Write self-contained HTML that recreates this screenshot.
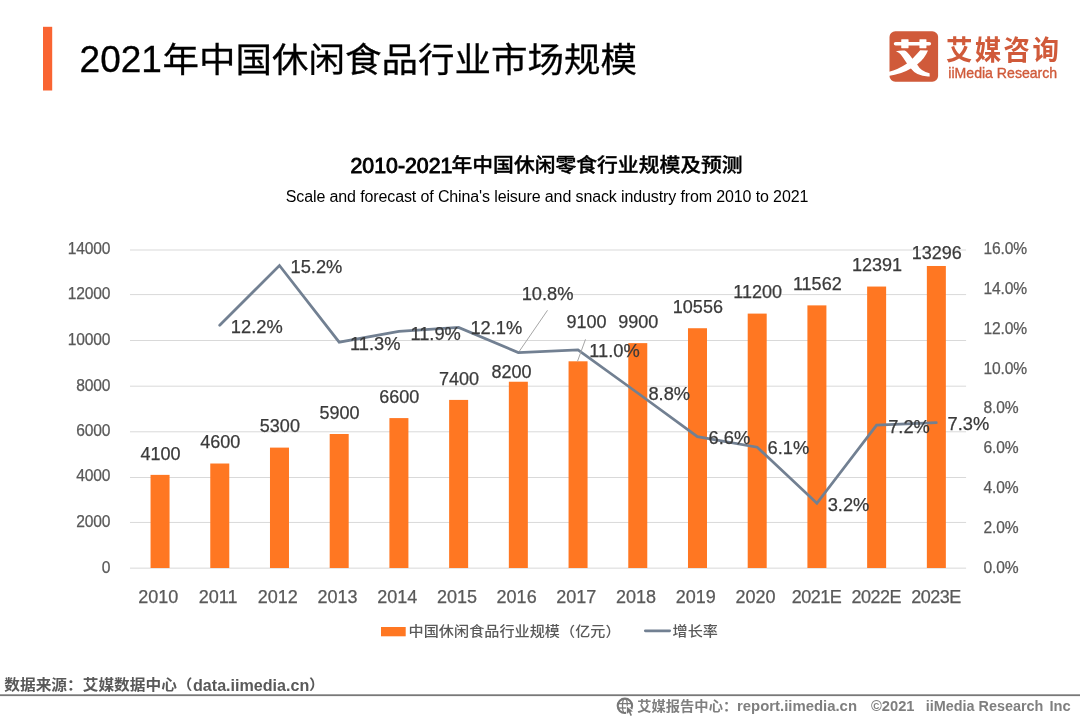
<!DOCTYPE html>
<html lang="zh-CN">
<head>
<meta charset="utf-8">
<title>2021年中国休闲食品行业市场规模</title>
<style>
html,body{margin:0;padding:0;background:#fff;}
body{width:1080px;height:720px;position:relative;overflow:hidden;font-family:"Liberation Sans", "Noto Sans CJK SC", sans-serif;}
#g{position:absolute;left:0;top:0;width:1080px;height:720px;}
.t{position:absolute;white-space:pre;line-height:0;height:0;}
.r{display:inline-block;line-height:0;white-space:pre;}
</style>
</head>
<body>
<svg id="g" width="1080" height="720" viewBox="0 0 1080 720">
<line x1="130.0" y1="568.15" x2="966.1" y2="568.15" stroke="#d9d9d9" stroke-width="1"/>
<line x1="130.0" y1="522.45" x2="966.1" y2="522.45" stroke="#d9d9d9" stroke-width="1"/>
<line x1="130.0" y1="477.50" x2="966.1" y2="477.50" stroke="#d9d9d9" stroke-width="1"/>
<line x1="130.0" y1="431.80" x2="966.1" y2="431.80" stroke="#d9d9d9" stroke-width="1"/>
<line x1="130.0" y1="386.20" x2="966.1" y2="386.20" stroke="#d9d9d9" stroke-width="1"/>
<line x1="130.0" y1="340.50" x2="966.1" y2="340.50" stroke="#d9d9d9" stroke-width="1"/>
<line x1="130.0" y1="294.60" x2="966.1" y2="294.60" stroke="#d9d9d9" stroke-width="1"/>
<line x1="130.0" y1="250.00" x2="966.1" y2="250.00" stroke="#d9d9d9" stroke-width="1"/>
<rect x="150.55" y="474.87" width="19.0" height="93.13" fill="#ff7722"/>
<rect x="210.27" y="463.51" width="19.0" height="104.49" fill="#ff7722"/>
<rect x="269.98" y="447.61" width="19.0" height="120.39" fill="#ff7722"/>
<rect x="329.70" y="433.99" width="19.0" height="134.01" fill="#ff7722"/>
<rect x="389.41" y="418.09" width="19.0" height="149.91" fill="#ff7722"/>
<rect x="449.13" y="399.91" width="19.0" height="168.09" fill="#ff7722"/>
<rect x="508.84" y="381.74" width="19.0" height="186.26" fill="#ff7722"/>
<rect x="568.56" y="361.30" width="19.0" height="206.70" fill="#ff7722"/>
<rect x="628.27" y="343.13" width="19.0" height="224.87" fill="#ff7722"/>
<rect x="687.99" y="328.23" width="19.0" height="239.77" fill="#ff7722"/>
<rect x="747.70" y="313.60" width="19.0" height="254.40" fill="#ff7722"/>
<rect x="807.41" y="305.38" width="19.0" height="262.62" fill="#ff7722"/>
<rect x="867.13" y="286.55" width="19.0" height="281.45" fill="#ff7722"/>
<rect x="926.85" y="265.99" width="19.0" height="302.01" fill="#ff7722"/>
<line x1="518.6" y1="352.3" x2="547.5" y2="310.3" stroke="#a6a6a6" stroke-width="1"/>
<polyline points="219.70,325.30 279.45,265.50 339.20,342.20 398.90,331.30 458.60,327.40 518.30,352.50 578.00,350.00 637.70,393.00 697.40,436.70 757.20,447.20 816.90,503.30 876.60,425.20 936.30,422.70" fill="none" stroke="#728092" stroke-width="2.75" stroke-linejoin="miter" stroke-linecap="round"/>
<line x1="585.5" y1="339.3" x2="577.5" y2="361.3" stroke="#a6a6a6" stroke-width="1"/>
<rect x="381" y="627" width="24.7" height="9.3" fill="#ff7722"/>
<line x1="645.3" y1="630.8" x2="669.7" y2="630.8" stroke="#728092" stroke-width="2.7" stroke-linecap="round"/>
<rect x="43" y="26.8" width="9.2" height="63.7" fill="#f96432"/>
<rect x="0" y="694.3" width="1080" height="1.8" fill="#787878"/>
<rect x="889.5" y="31.2" width="48.6" height="50.5" rx="5.8" ry="5.8" fill="#d05a3a"/>
<g transform="translate(886,28) scale(0.077778)" fill="#ffffff">
<rect x="100" y="180" width="480" height="46" rx="23" ry="23"/>
<rect x="196" y="145" width="94" height="116" rx="6"/>
<rect x="430" y="145" width="90" height="116" rx="6"/>
<path d="M128 300 Q180 286 240 290 Q272 300 340 395 Q400 330 440 285 L540 288 Q500 390 400 470 Q450 560 560 582 L562 622 Q400 630 320 522 Q200 595 30 618 L30 566 Q160 530 270 455 Q220 380 190 340 Q170 318 128 300 Z"/>
</g>
<g fill="none" stroke="#777777" stroke-width="1.3">
<circle cx="624.9" cy="705.8" r="7.2" stroke-width="2.1"/>
<ellipse cx="624.9" cy="705.8" rx="2.4" ry="7.2"/>
<line x1="618" y1="703.6" x2="632" y2="703.6"/>
<line x1="618" y1="708" x2="632" y2="708"/>
</g>
<path d="M627 706.4 L627 713.8 L628.9 712.3 L630.5 716 L632 715.3 L630.4 711.7 L632.9 711.4 Z" fill="#777777" stroke="#ffffff" stroke-width="1.6" stroke-linejoin="round" paint-order="stroke"/>
</svg>
<div class="t" id="title" style="left:79.6px;top:60px;font-size:37px;"><span class="r" id="title_d" style="font-size:37px;color:#000;-webkit-text-stroke:0.3px #000;">2021</span><span class="r" id="title_c" style="font-size:36.5px;color:#000;margin-left:0.7px;transform-origin:0 15px;transform:scale(1,0.947);-webkit-text-stroke:0.3px #000;">年中国休闲食品行业市场规模</span></div>
<div class="t" id="ctitle" style="left:350.5px;top:166px;font-size:21.3px;"><span class="r" id="ctitle_d" style="font-size:21.3px;color:#000;-webkit-text-stroke:0.9px #000;">2010-2021</span><span class="r" id="ctitle_c" style="font-size:20.8px;color:#000;font-weight:500;margin-left:-0.86px;transform-origin:0 -1.2px;transform:scale(1,0.92);-webkit-text-stroke:0.4px #000;">年中国休闲零食行业规模及预测</span></div>
<div class="t" id="src" style="left:4.3px;top:685px;font-size:15.7px;"><span class="r" id="src_c" style="font-size:15.7px;color:#595959;font-weight:700;transform-origin:0 -1px;transform:scale(1,0.91);">数据来源：艾媒数据中心（</span><span class="r" id="src_l" style="font-size:16.1px;color:#595959;font-weight:700;margin-left:0.47px;">data.iimedia.cn</span><span class="r" id="src_p" style="font-size:15.7px;color:#595959;font-weight:700;margin-left:-0.38px;transform-origin:0 -1px;transform:scale(1,0.91);">）</span></div>
<div class="t" id="ft" style="left:637.2px;top:706px;font-size:14.3px;"><span class="r" id="ft1_c" style="font-size:14.3px;color:#7f7f7f;font-weight:700;transform-origin:0 -0.5px;transform:scale(1,0.92);">艾媒报告中心：</span><span class="r" id="ft1_l" style="font-size:14.9px;color:#7f7f7f;font-weight:700;margin-left:-0.27px;">report.iimedia.cn </span><span class="r" id="ft2" style="font-size:14.7px;color:#7f7f7f;font-weight:700;margin-left:9.88px;">©2021 </span><span class="r" id="ft3" style="font-size:14.4px;color:#7f7f7f;font-weight:700;margin-left:7.23px;">iiMedia Research </span><span class="r" id="ft4" style="font-size:14.7px;color:#7f7f7f;font-weight:700;margin-left:2.13px;">Inc</span></div>
<div class="t" id="csub" style="left:547px;top:197px;font-size:16px;color:#000;letter-spacing:-0.12px;transform:translateX(-50%);">Scale and forecast of China's leisure and snack industry from 2010 to 2021</div>
<div class="t" id="logo_c" style="left:946px;top:51px;font-size:26.5px;color:#d05a3a;font-weight:700;letter-spacing:2.3px;transform-origin:0 11.6px;transform:scale(1,1.045);">艾媒咨询</div>
<div class="t" id="logo_e" style="left:948.3px;top:73px;font-size:14.1px;color:#d05a3a;-webkit-text-stroke:0.35px #d05a3a;">iiMedia Research</div>
<div class="t" id="yl0" style="left:110.2px;top:568px;font-size:15.6px;color:#595959;letter-spacing:-0.2px;transform:translateX(-100%);-webkit-text-stroke:0.25px #595959;">0</div>
<div class="t" id="yl1" style="left:110.2px;top:522px;font-size:15.6px;color:#595959;letter-spacing:-0.2px;transform:translateX(-100%);-webkit-text-stroke:0.25px #595959;">2000</div>
<div class="t" id="yl2" style="left:110.2px;top:476px;font-size:15.6px;color:#595959;letter-spacing:-0.2px;transform:translateX(-100%);-webkit-text-stroke:0.25px #595959;">4000</div>
<div class="t" id="yl3" style="left:110.2px;top:431px;font-size:15.6px;color:#595959;letter-spacing:-0.2px;transform:translateX(-100%);-webkit-text-stroke:0.25px #595959;">6000</div>
<div class="t" id="yl4" style="left:110.2px;top:386px;font-size:15.6px;color:#595959;letter-spacing:-0.2px;transform:translateX(-100%);-webkit-text-stroke:0.25px #595959;">8000</div>
<div class="t" id="yl5" style="left:110.2px;top:340px;font-size:15.6px;color:#595959;letter-spacing:-0.2px;transform:translateX(-100%);-webkit-text-stroke:0.25px #595959;">10000</div>
<div class="t" id="yl6" style="left:110.2px;top:294px;font-size:15.6px;color:#595959;letter-spacing:-0.2px;transform:translateX(-100%);-webkit-text-stroke:0.25px #595959;">12000</div>
<div class="t" id="yl7" style="left:110.2px;top:249px;font-size:15.6px;color:#595959;letter-spacing:-0.2px;transform:translateX(-100%);-webkit-text-stroke:0.25px #595959;">14000</div>
<div class="t" id="yr0" style="left:983.6px;top:568px;font-size:15.6px;color:#595959;letter-spacing:-0.2px;-webkit-text-stroke:0.25px #595959;">0.0%</div>
<div class="t" id="yr1" style="left:983.6px;top:528px;font-size:15.6px;color:#595959;letter-spacing:-0.2px;-webkit-text-stroke:0.25px #595959;">2.0%</div>
<div class="t" id="yr2" style="left:983.6px;top:488px;font-size:15.6px;color:#595959;letter-spacing:-0.2px;-webkit-text-stroke:0.25px #595959;">4.0%</div>
<div class="t" id="yr3" style="left:983.6px;top:448px;font-size:15.6px;color:#595959;letter-spacing:-0.2px;-webkit-text-stroke:0.25px #595959;">6.0%</div>
<div class="t" id="yr4" style="left:983.6px;top:408px;font-size:15.6px;color:#595959;letter-spacing:-0.2px;-webkit-text-stroke:0.25px #595959;">8.0%</div>
<div class="t" id="yr5" style="left:983.6px;top:369px;font-size:15.6px;color:#595959;letter-spacing:-0.2px;-webkit-text-stroke:0.25px #595959;">10.0%</div>
<div class="t" id="yr6" style="left:983.6px;top:329px;font-size:15.6px;color:#595959;letter-spacing:-0.2px;-webkit-text-stroke:0.25px #595959;">12.0%</div>
<div class="t" id="yr7" style="left:983.6px;top:289px;font-size:15.6px;color:#595959;letter-spacing:-0.2px;-webkit-text-stroke:0.25px #595959;">14.0%</div>
<div class="t" id="yr8" style="left:983.6px;top:249px;font-size:15.6px;color:#595959;letter-spacing:-0.2px;-webkit-text-stroke:0.25px #595959;">16.0%</div>
<div class="t" id="xl0" style="left:158.35px;top:597px;font-size:18px;color:#595959;transform:translateX(-50%);-webkit-text-stroke:0.25px #595959;">2010</div>
<div class="t" id="xl1" style="left:218.07px;top:597px;font-size:18px;color:#595959;transform:translateX(-50%);-webkit-text-stroke:0.25px #595959;">2011</div>
<div class="t" id="xl2" style="left:277.78px;top:597px;font-size:18px;color:#595959;transform:translateX(-50%);-webkit-text-stroke:0.25px #595959;">2012</div>
<div class="t" id="xl3" style="left:337.5px;top:597px;font-size:18px;color:#595959;transform:translateX(-50%);-webkit-text-stroke:0.25px #595959;">2013</div>
<div class="t" id="xl4" style="left:397.21px;top:597px;font-size:18px;color:#595959;transform:translateX(-50%);-webkit-text-stroke:0.25px #595959;">2014</div>
<div class="t" id="xl5" style="left:456.93px;top:597px;font-size:18px;color:#595959;transform:translateX(-50%);-webkit-text-stroke:0.25px #595959;">2015</div>
<div class="t" id="xl6" style="left:516.64px;top:597px;font-size:18px;color:#595959;transform:translateX(-50%);-webkit-text-stroke:0.25px #595959;">2016</div>
<div class="t" id="xl7" style="left:576.36px;top:597px;font-size:18px;color:#595959;transform:translateX(-50%);-webkit-text-stroke:0.25px #595959;">2017</div>
<div class="t" id="xl8" style="left:636.07px;top:597px;font-size:18px;color:#595959;transform:translateX(-50%);-webkit-text-stroke:0.25px #595959;">2018</div>
<div class="t" id="xl9" style="left:695.79px;top:597px;font-size:18px;color:#595959;transform:translateX(-50%);-webkit-text-stroke:0.25px #595959;">2019</div>
<div class="t" id="xl10" style="left:755.5px;top:597px;font-size:18px;color:#595959;transform:translateX(-50%);-webkit-text-stroke:0.25px #595959;">2020</div>
<div class="t" id="xl11" style="left:816.56px;top:597px;font-size:18px;color:#595959;letter-spacing:-0.5px;transform:translateX(-50%);-webkit-text-stroke:0.25px #595959;">2021E</div>
<div class="t" id="xl12" style="left:876.28px;top:597px;font-size:18px;color:#595959;letter-spacing:-0.5px;transform:translateX(-50%);-webkit-text-stroke:0.25px #595959;">2022E</div>
<div class="t" id="xl13" style="left:936px;top:597px;font-size:18px;color:#595959;letter-spacing:-0.5px;transform:translateX(-50%);-webkit-text-stroke:0.25px #595959;">2023E</div>
<div class="t" id="bl0" style="left:160.45px;top:454px;font-size:18px;color:#3a3a3a;transform:translateX(-50%);-webkit-text-stroke:0.25px #3a3a3a;">4100</div>
<div class="t" id="bl1" style="left:220.17px;top:442px;font-size:18px;color:#3a3a3a;transform:translateX(-50%);-webkit-text-stroke:0.25px #3a3a3a;">4600</div>
<div class="t" id="bl2" style="left:279.88px;top:426px;font-size:18px;color:#3a3a3a;transform:translateX(-50%);-webkit-text-stroke:0.25px #3a3a3a;">5300</div>
<div class="t" id="bl3" style="left:339.6px;top:413px;font-size:18px;color:#3a3a3a;transform:translateX(-50%);-webkit-text-stroke:0.25px #3a3a3a;">5900</div>
<div class="t" id="bl4" style="left:399.31px;top:397px;font-size:18px;color:#3a3a3a;transform:translateX(-50%);-webkit-text-stroke:0.25px #3a3a3a;">6600</div>
<div class="t" id="bl5" style="left:459.03px;top:379px;font-size:18px;color:#3a3a3a;transform:translateX(-50%);-webkit-text-stroke:0.25px #3a3a3a;">7400</div>
<div class="t" id="bl6" style="left:511.44px;top:372px;font-size:18px;color:#3a3a3a;transform:translateX(-50%);-webkit-text-stroke:0.25px #3a3a3a;">8200</div>
<div class="t" id="bl7" style="left:586.56px;top:322px;font-size:18px;color:#3a3a3a;transform:translateX(-50%);-webkit-text-stroke:0.25px #3a3a3a;">9100</div>
<div class="t" id="bl8" style="left:638.17px;top:322px;font-size:18px;color:#3a3a3a;transform:translateX(-50%);-webkit-text-stroke:0.25px #3a3a3a;">9900</div>
<div class="t" id="bl9" style="left:697.89px;top:307px;font-size:18px;color:#3a3a3a;transform:translateX(-50%);-webkit-text-stroke:0.25px #3a3a3a;">10556</div>
<div class="t" id="bl10" style="left:757.6px;top:292px;font-size:18px;color:#3a3a3a;transform:translateX(-50%);-webkit-text-stroke:0.25px #3a3a3a;">11200</div>
<div class="t" id="bl11" style="left:817.31px;top:284px;font-size:18px;color:#3a3a3a;transform:translateX(-50%);-webkit-text-stroke:0.25px #3a3a3a;">11562</div>
<div class="t" id="bl12" style="left:877.03px;top:265px;font-size:18px;color:#3a3a3a;transform:translateX(-50%);-webkit-text-stroke:0.25px #3a3a3a;">12391</div>
<div class="t" id="bl13" style="left:936.75px;top:253px;font-size:18px;color:#3a3a3a;transform:translateX(-50%);-webkit-text-stroke:0.25px #3a3a3a;">13296</div>
<div class="t" id="rl1" style="left:230.8px;top:327px;font-size:18.3px;color:#3a3a3a;-webkit-text-stroke:0.25px #3a3a3a;">12.2%</div>
<div class="t" id="rl2" style="left:290.5px;top:267px;font-size:18.3px;color:#3a3a3a;-webkit-text-stroke:0.25px #3a3a3a;">15.2%</div>
<div class="t" id="rl3" style="left:350px;top:344px;font-size:18.3px;color:#3a3a3a;-webkit-text-stroke:0.25px #3a3a3a;">11.3%</div>
<div class="t" id="rl4" style="left:410.4px;top:334px;font-size:18.3px;color:#3a3a3a;-webkit-text-stroke:0.25px #3a3a3a;">11.9%</div>
<div class="t" id="rl5" style="left:470.4px;top:328px;font-size:18.3px;color:#3a3a3a;-webkit-text-stroke:0.25px #3a3a3a;">12.1%</div>
<div class="t" id="rl6" style="left:521.7px;top:294px;font-size:18.3px;color:#3a3a3a;-webkit-text-stroke:0.25px #3a3a3a;">10.8%</div>
<div class="t" id="rl7" style="left:589.2px;top:351px;font-size:18.3px;color:#3a3a3a;-webkit-text-stroke:0.25px #3a3a3a;">11.0%</div>
<div class="t" id="rl8" style="left:648.4px;top:394px;font-size:18.3px;color:#3a3a3a;-webkit-text-stroke:0.25px #3a3a3a;">8.8%</div>
<div class="t" id="rl9" style="left:708.5px;top:438px;font-size:18.3px;color:#3a3a3a;-webkit-text-stroke:0.25px #3a3a3a;">6.6%</div>
<div class="t" id="rl10" style="left:767.6px;top:448px;font-size:18.3px;color:#3a3a3a;-webkit-text-stroke:0.25px #3a3a3a;">6.1%</div>
<div class="t" id="rl11" style="left:827.7px;top:505px;font-size:18.3px;color:#3a3a3a;-webkit-text-stroke:0.25px #3a3a3a;">3.2%</div>
<div class="t" id="rl12" style="left:888.2px;top:427px;font-size:18.3px;color:#3a3a3a;-webkit-text-stroke:0.25px #3a3a3a;">7.2%</div>
<div class="t" id="rl13" style="left:947.6px;top:424px;font-size:18.3px;color:#3a3a3a;-webkit-text-stroke:0.25px #3a3a3a;">7.3%</div>
<div class="t" id="lg1" style="left:408.6px;top:631px;font-size:15.15px;color:#595959;font-weight:500;transform-origin:0 -0.7px;transform:scale(1,0.92);">中国休闲食品行业规模（亿元）</div>
<div class="t" id="lg2" style="left:672.6px;top:631px;font-size:15.15px;color:#595959;font-weight:500;transform-origin:0 -0.7px;transform:scale(1,0.92);">增长率</div>
</body>
</html>
